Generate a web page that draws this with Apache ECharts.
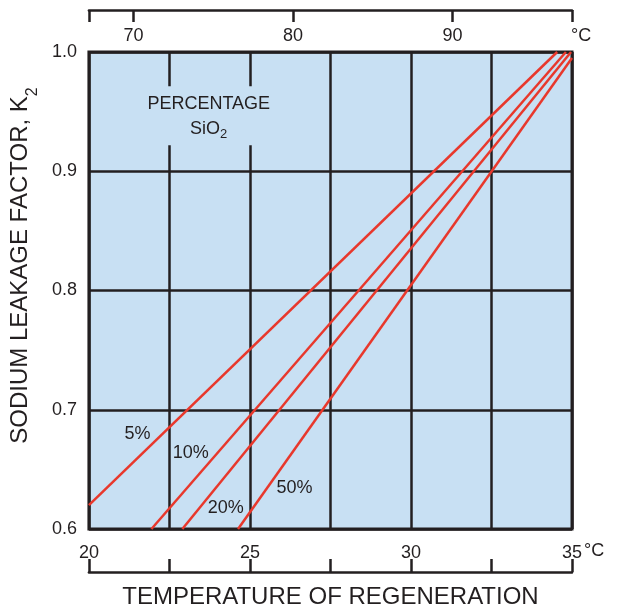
<!DOCTYPE html>
<html><head><meta charset="utf-8">
<script src="https://cdn.jsdelivr.net/npm/echarts@6/dist/echarts.min.js"></script>
<style>html,body{margin:0;padding:0;background:#fff}#c{width:619px;height:614px}</style>
</head><body><div id="c"></div>
<script>
// ---- data ----
const seriesNames = ['5%', '10%', '20%', '50%'];
const line5  = [[20.00, 0.620], [34.54, 1.000]];
const line10 = [[21.94, 0.600], [34.81, 1.000]];
const line20 = [[22.90, 0.600], [34.97, 1.000]];
const line50 = [[24.63, 0.600], [35.00, 0.995]];
const bottomLabels = [20, 25, 30, 35];
const topLabels = [70, 80, 90];
const yLabels = [0.6, 0.7, 0.8, 0.9, 1.0];

// ---- layout / style ----
const FONT = '"Liberation Sans", Arial, sans-serif';
const INK = '#231f20';
const RED = '#e8382c';
const FILL = '#c8e0f3';
const seriesLines = [line5, line10, line20, line50];
const labelAnchors = [[21.51, 0.680], [23.16, 0.664], [24.25, 0.6176], [26.38, 0.6343]];
const boxAnchor = [23.72, 0.9465];

const chart = echarts.init(document.getElementById('c'), null, {renderer: 'canvas'});
const axisText = {color: INK, fontSize: 18, fontFamily: FONT};

chart.setOption({
  animation: false,
  grid: {left: 88, right: 47, top: 52, bottom: 84, show: true, backgroundColor: FILL,
         borderColor: INK, borderWidth: 3},
  xAxis: [
    {type: 'value', position: 'bottom', offset: 43, min: 20, max: 35, interval: 2.5,
     axisLine: {show: true, lineStyle: {color: INK, width: 2.5}},
     axisTick: {show: true, inside: true, length: 13, lineStyle: {color: INK, width: 2.5}},
     axisLabel: Object.assign({inside: true, margin: 10,
       formatter: v => (bottomLabels.indexOf(v) >= 0 ? String(v) : '')}, axisText),
     splitLine: {show: true, lineStyle: {color: INK, width: 2.5}},
     name: 'TEMPERATURE OF REGENERATION', nameLocation: 'middle', nameGap: 13,
     nameTextStyle: {color: INK, fontSize: 24, fontFamily: FONT}},
    {type: 'value', position: 'top', offset: 42, min: 67.2, max: 97.5,
     axisLine: {show: true, lineStyle: {color: INK, width: 2.5}},
     axisTick: {show: true, inside: true, length: 12, customValues: [67.2].concat(topLabels, [97.5]),
                lineStyle: {color: INK, width: 2.5}},
     axisLabel: Object.assign({inside: true, margin: 17, customValues: topLabels}, axisText),
     splitLine: {show: false}}
  ],
  yAxis: {type: 'value', min: 0.6, max: 1.0, interval: 0.1,
    axisLine: {show: false}, axisTick: {show: false},
    axisLabel: Object.assign({margin: 12, formatter: v => v.toFixed(1)}, axisText),
    splitLine: {show: true, lineStyle: {color: INK, width: 2.5}},
    name: 'SODIUM LEAKAGE FACTOR, K{sub|2}', nameLocation: 'middle', nameGap: 36,
    nameTextStyle: {color: INK, fontSize: 24, fontFamily: FONT, padding: [0, 0, 0, 50],
      rich: {sub: {fontSize: 16, fontFamily: FONT, color: INK, padding: [26, 0, 0, 0]}}}},
  series: seriesLines.map((d, i) => ({
    name: seriesNames[i], type: 'line', data: d, symbol: 'none', silent: true,
    lineStyle: {color: RED, width: 2.5}, z: 3
  }))
});

const g = [];
labelAnchors.forEach((p, i) => {
  const px = chart.convertToPixel({gridIndex: 0}, p);
  g.push({type: 'text', x: px[0], y: px[1], z: 10,
    style: {text: seriesNames[i], fill: INK, fontSize: 18, fontFamily: FONT, align: 'center', verticalAlign: 'middle'}});
});
const bp = chart.convertToPixel({gridIndex: 0}, boxAnchor);
g.push({type: 'text', x: bp[0], y: bp[1], z: 10,
  style: {text: 'PERCENTAGE\nSiO{sub|2}', fill: INK, fontSize: 18, fontFamily: FONT, lineHeight: 25,
    align: 'center', verticalAlign: 'middle', backgroundColor: FILL, padding: [5, 3, 4, 3],
    rich: {sub: {fontSize: 13, fontFamily: FONT, fill: INK, padding: [12, 0, 0, 0]}}}});
const br = chart.convertToPixel({xAxisIndex: 0}, 35);
g.push({type: 'text', x: br + 12, y: 551, z: 10,
  style: {text: '°C', fill: INK, fontSize: 18, fontFamily: FONT, align: 'left', verticalAlign: 'middle'}});
g.push({type: 'text', x: br - 1, y: 36, z: 10,
  style: {text: '°C', fill: INK, fontSize: 18, fontFamily: FONT, align: 'left', verticalAlign: 'middle'}});
chart.setOption({graphic: g});
</script></body></html>
